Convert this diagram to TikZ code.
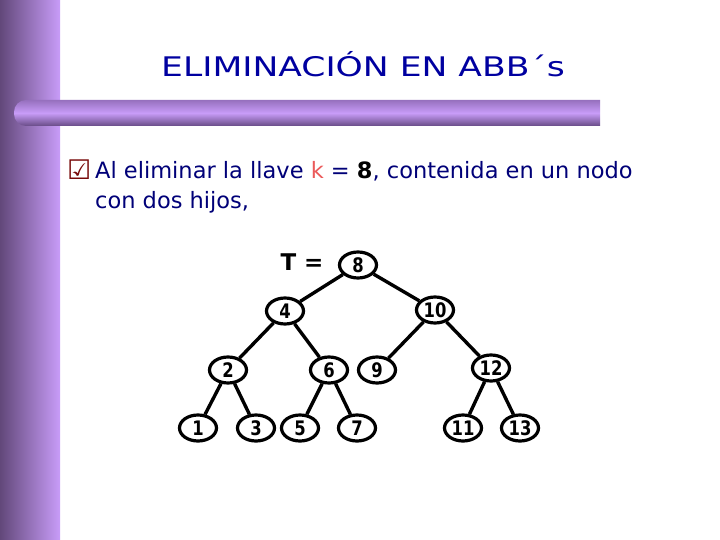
\documentclass[tikz,border=0pt]{standalone}
\usepackage{fontspec}
\setmainfont{DejaVu Sans}
\usetikzlibrary{shapes.geometric}

\definecolor{titleblue}{RGB}{0,0,160}
\definecolor{textblue}{RGB}{0,0,120}
\definecolor{keyred}{RGB}{235,90,90}
\definecolor{boxred}{RGB}{120,10,10}
\definecolor{barlight}{RGB}{200,156,248}
\definecolor{bardark}{RGB}{98,72,122}
\definecolor{bartop}{RGB}{150,112,190}
\definecolor{barbottom}{RGB}{104,76,134}

\begin{document}
\begin{tikzpicture}[x=1pt, y=-1pt, every node/.style={inner sep=0pt}]

    % Define styles
    \tikzstyle{key} = [ellipse, draw=black, line width=3.2pt, minimum width=37pt, minimum height=26pt, font=\fontsize{20}{20}\selectfont\bfseries\addfontfeatures{FakeStretch=0.82}]
    \tikzstyle{edge} = [line width=3.4pt]
    \tikzstyle{body} = [anchor=base west, text=textblue, font=\fontsize{22.5}{22.5}\selectfont]

    % Background and bars
    \useasboundingbox (0,0) rectangle (720,540);
    \fill[white] (0,0) rectangle (720,540);
    \shade[left color=bardark, right color=barlight] (0,0) rectangle (60,540);
    \shade[top color=bartop, bottom color=barbottom, middle color=barlight] (600,126) -- (600,100) {[rounded corners=12pt] -- (14,100) -- (14,126)} -- cycle;

    % Title and text
    \node (title) at (363,64) [text=titleblue, font=\fontsize{27}{27}\selectfont\addfontfeatures{FakeStretch=1.28}] {ELIMINACIÓN EN ABB´s};
    \node (check) at (67,180) [anchor=base west, text=boxred, font=\fontsize{27}{27}\selectfont] {☑};
    \node (line1) at (95,179) [body] {Al eliminar la llave \textcolor{keyred}{k} = \textcolor{black}{\textbf{8}}, contenida en un nodo};
    \node (line2) at (95,208) [body] {con dos hijos,};

    % Place nodes
    \node (tname) at (302,262) [font=\fontsize{23}{23}\selectfont\bfseries] {T =};
    \node (n8) at (358,265) [key] {8};
    \node (n4) at (285,311) [key] {4};
    \node (n10) at (435,310) [key] {10};
    \node (n2) at (228,370) [key] {2};
    \node (n6) at (329,370) [key] {6};
    \node (n9) at (377,370) [key] {9};
    \node (n12) at (491,368) [key] {12};
    \node (n1) at (198,428) [key] {1};
    \node (n3) at (256,428) [key] {3};
    \node (n5) at (300,428) [key] {5};
    \node (n7) at (357,428) [key] {7};
    \node (n11) at (463,428) [key] {11};
    \node (n13) at (520,428) [key] {13};

    % Draw edges
    \draw [edge] (n8) -- (n4);
    \draw [edge] (n8) -- (n10);
    \draw [edge] (n4) -- (n2);
    \draw [edge] (n4) -- (n6);
    \draw [edge] (n10) -- (n9);
    \draw [edge] (n10) -- (n12);
    \draw [edge] (n2) -- (n1);
    \draw [edge] (n2) -- (n3);
    \draw [edge] (n6) -- (n5);
    \draw [edge] (n6) -- (n7);
    \draw [edge] (n12) -- (n11);
    \draw [edge] (n12) -- (n13);

\end{tikzpicture}
\end{document}
